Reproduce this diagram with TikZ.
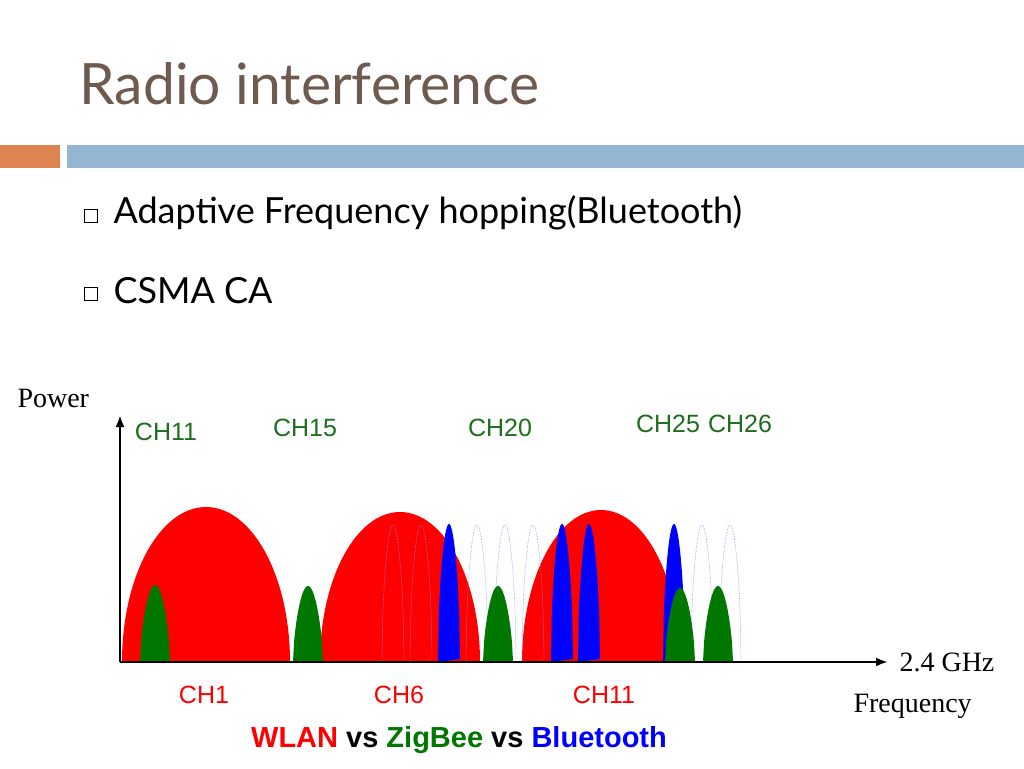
\documentclass[tikz,border=0pt]{standalone}
\usepackage{fontspec}
\setmainfont{Lato}
\newfontfamily\arialf{Liberation Sans}
\newfontfamily\timesf{Liberation Serif}
\usetikzlibrary{arrows.meta}
\definecolor{titlec}{RGB}{110,90,78}
\definecolor{barblue}{RGB}{148,182,210}
\definecolor{barorg}{RGB}{221,132,82}
\definecolor{zg}{RGB}{0,120,0}
\definecolor{chg}{RGB}{30,110,30}
\begin{document}
\begin{tikzpicture}[x=1pt,y=-1pt,
  chl/.style={font=\arialf\fontsize{25}{27}\selectfont},
  chg/.style={chl,text=chg},
  axl/.style={font=\timesf\fontsize{28}{30}\selectfont},
  bul/.style={draw,minimum size=13pt,inner sep=0pt,line width=0.8pt},
  btxt/.style={anchor=west,font=\fontsize{36}{40}\selectfont}]
\useasboundingbox (0,0) rectangle (1024,768);
\fill[white] (0,0) rectangle (1024,768);
\node[anchor=west,text=titlec,font=\fontsize{57}{62}\selectfont] (title) at (76,84) {Radio interference};
\fill[barorg] (0,145) rectangle (60,168);
\fill[barblue] (67,145) rectangle (1024,168);
\node[bul] (b1) at (91,216) {};
\node[btxt] (t1) at (110,213) {Adaptive Frequency hopping(Bluetooth)};
\node[bul] (b2) at (91,294) {};
\node[btxt] (t2) at (110,291) {CSMA CA};
% red WLAN lobes
\foreach \c/\w/\h in {206/84/155, 400/80/150, 601/79/152}
  \fill[red] ({\c-\w},662) arc[start angle=180,end angle=360,x radius=\w,y radius=\h];
% dotted bluetooth
\foreach \c in {393,421,477,505,533,702,730}
  \draw[blue!45,densely dotted,line width=0.6pt] plot[domain=-1:1,samples=30] ({\c+11*\x},{662-137*cos(90*\x)^0.5});
% filled bluetooth
\foreach \c in {449,562,589,674}
  \fill[blue] plot[domain=-1:1,samples=30] ({\c+11*\x},{662-138*cos(90*\x)^0.5}) -- cycle;
% zigbee
\foreach \c/\h in {155/77,308/76,498/76,680/74,718/76}
  \fill[zg] plot[domain=-1:1,samples=30] ({\c+15*\x},{662-\h*cos(90*\x)^0.6}) -- cycle;
\coordinate (o) at (120,662);
\coordinate (yend) at (120,415);
\coordinate (xend) at (888,662);
\draw[line width=2.5pt,-{Latex[length=12pt,width=9pt]}] (o) -- (yend);
\draw[line width=2.5pt,-{Latex[length=12pt,width=9pt]}] (o) -- (xend);
\node[axl,anchor=west] (pw) at (14,398) {Power};
\node[axl,anchor=west] (ghz) at (896,662) {2.4 GHz};
\node[axl,anchor=west] (fq) at (850,706) {Frequency};
\node[chg] (c11) at (166,432) {CH11};
\node[chg] (c15) at (305,428) {CH15};
\node[chg] (c20) at (500,428) {CH20};
\node[chg] (c25) at (668,424) {CH25};
\node[chg] (c26) at (740,424) {CH26};
\node[chl,text=red] (w1) at (204,695) {CH1};
\node[chl,text=red] (w6) at (399,695) {CH6};
\node[chl,text=red] (w11) at (604,695) {CH11};
\node[font=\arialf\bfseries\fontsize{29}{31}\selectfont] (cap) at (459,740) {\textcolor{red}{WLAN} vs \textcolor{zg}{ZigBee} vs \textcolor{blue}{Bluetooth}};
\end{tikzpicture}
\end{document}
